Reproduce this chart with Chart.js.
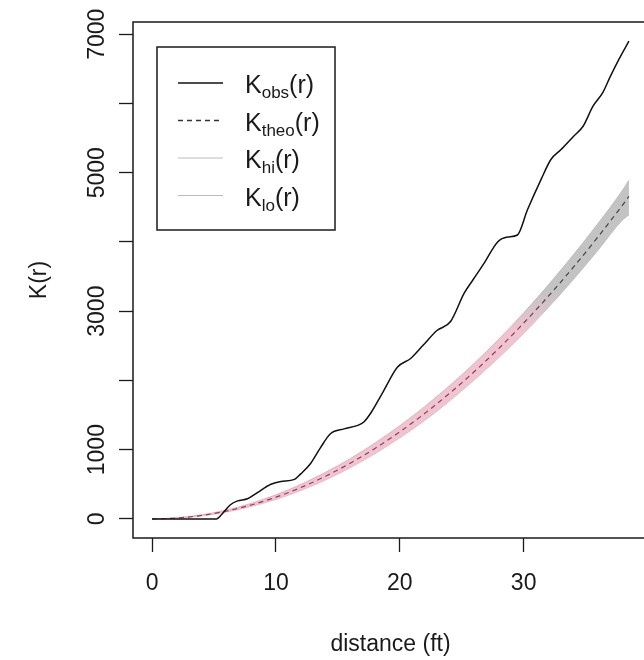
<!DOCTYPE html>
<html>
<head>
<meta charset="utf-8">
<script src="https://cdn.jsdelivr.net/npm/chart.js@4.4.1/dist/chart.umd.min.js"></script>
<style>
	html, body { margin: 0; padding: 0; background: #fff; overflow: hidden; }
	canvas { display: block; }
</style>
</head>
<body>
<canvas id="chart-k-function" width="648" height="660"></canvas>
<script>
const R_OBS = [0, 2, 4, 5.2, 5.6, 6.3, 6.9, 7.7, 8.5, 9.6, 10.4, 11.5, 12, 12.8, 13.6, 14.4, 15.5, 16.6, 17.1, 17.7, 18.7, 19.8, 20.9, 21.9, 23, 24.1, 25.2, 25.9, 26.8, 27.9, 28.7, 29.5, 30.3, 31.4, 32.2, 33, 34, 34.8, 35.6, 36.4, 37, 37.7, 38.5];
const K_OBS = [0, 0, 0, 0, 60, 200, 260, 290, 380, 500, 540, 570, 650, 800, 1030, 1230, 1300, 1350, 1400, 1540, 1850, 2190, 2320, 2510, 2720, 2850, 3260, 3450, 3690, 4000, 4070, 4100, 4460, 4900, 5190, 5330, 5520, 5670, 5960, 6160, 6390, 6640, 6900];

// theoretical curve and envelope
const R_ENV = [0, 2, 4, 6, 8, 10, 12, 14, 16, 18, 20, 22, 24, 26, 28, 30, 32, 34, 36, 38, 38.5];
const K_THEO = [0, 13, 50, 113, 201, 314, 452, 616, 804, 1018, 1257, 1521, 1810, 2124, 2463, 2827, 3217, 3632, 4072, 4536, 4657];
const K_HI = [0, 16, 58, 128, 224, 348, 497, 672, 870, 1095, 1345, 1620, 1920, 2245, 2595, 2975, 3380, 3810, 4265, 4750, 4890];
const K_LO = [0, 10, 43, 99, 180, 282, 410, 562, 740, 942, 1170, 1420, 1700, 2005, 2330, 2680, 3055, 3455, 3880, 4320, 4390];

const X_TICKS = [0, 10, 20, 30];
const Y_TICKS = [0, 1000, 2000, 3000, 4000, 5000, 6000, 7000];
const Y_LABELED = [0, 1000, 3000, 5000, 7000];

const FONT = "'Liberation Sans', Arial, sans-serif";
const INK = "#1a1a1a";

Chart.defaults.font.family = FONT;
Chart.defaults.font.size = 23;
Chart.defaults.color = INK;

const toPoints = (xs, ys) => xs.map((x, i) => ({ x: x, y: ys[i] }));

// pink in the lower part of the band, grey above
const bandShade = (pink, grey) => (context) => {
	const chart = context.chart;
	if (!chart.chartArea) return grey;
	const y = chart.scales.y;
	const g = chart.ctx.createLinearGradient(0, y.getPixelForValue(2700), 0, y.getPixelForValue(3300));
	g.addColorStop(0, pink);
	g.addColorStop(1, grey);
	return g;
};

const LEGEND_ROWS = [
	{ sub: "obs", color: "#111", width: 1.5, dash: [] },
	{ sub: "theo", color: "#333", width: 1.3, dash: [5, 4] },
	{ sub: "hi", color: "#bdbdbd", width: 1.2, dash: [] },
	{ sub: "lo", color: "#bdbdbd", width: 1.2, dash: [] },
];

const frameAndLegend = {
	id: "frameAndLegend",
	afterDatasetsDraw(chart) {
		const { ctx, chartArea } = chart;
		ctx.save();
		ctx.strokeStyle = INK;
		ctx.lineWidth = 1.5;
		ctx.strokeRect(chartArea.left, chartArea.top, chartArea.right - chartArea.left, chartArea.bottom - chartArea.top);

		const bx = chartArea.left + 24;
		const by = chartArea.top + 25;
		ctx.fillStyle = "#fff";
		ctx.fillRect(bx, by, 178, 183);
		ctx.strokeRect(bx, by, 178, 183);

		LEGEND_ROWS.forEach((row, i) => {
			const cy = by + 36 + i * 37.5;
			ctx.beginPath();
			ctx.setLineDash(row.dash);
			ctx.strokeStyle = row.color;
			ctx.lineWidth = row.width;
			ctx.moveTo(bx + 21, cy);
			ctx.lineTo(bx + 66, cy);
			ctx.stroke();
			ctx.setLineDash([]);

			let tx = bx + 88;
			const base = cy + 10;
			ctx.fillStyle = INK;
			ctx.textAlign = "left";
			ctx.textBaseline = "alphabetic";
			ctx.font = "25px " + FONT;
			ctx.fillText("K", tx, base);
			tx += ctx.measureText("K").width;
			ctx.font = "17px " + FONT;
			ctx.fillText(row.sub, tx, base + 5);
			tx += ctx.measureText(row.sub).width;
			ctx.font = "25px " + FONT;
			ctx.fillText("(r)", tx, base);
		});
		ctx.restore();
	},
};

const CHART_DATA = {
	datasets: [
		{
			label: "K_obs(r)",
			data: toPoints(R_OBS, K_OBS),
			borderColor: "#111",
			borderWidth: 1.5,
			pointRadius: 0,
			cubicInterpolationMode: "monotone",
			fill: false,
		},
		{
			label: "K_theo(r)",
			data: toPoints(R_ENV, K_THEO),
			borderColor: bandShade("#9a3a58", "#444"),
			borderWidth: 1.2,
			borderDash: [5, 4],
			pointRadius: 0,
			cubicInterpolationMode: "monotone",
			fill: false,
		},
		{
			label: "K_hi(r)",
			data: toPoints(R_ENV, K_HI),
			borderColor: bandShade("rgba(225,160,180,0.8)", "#bdbdbd"),
			borderWidth: 1,
			backgroundColor: bandShade("rgba(236,190,204,0.9)", "rgba(192,192,192,0.95)"),
			pointRadius: 0,
			cubicInterpolationMode: "monotone",
			fill: "+1",
		},
		{
			label: "K_lo(r)",
			data: toPoints(R_ENV, K_LO),
			borderColor: bandShade("rgba(225,160,180,0.8)", "#bdbdbd"),
			borderWidth: 1,
			pointRadius: 0,
			cubicInterpolationMode: "monotone",
			fill: false,
		},
	],
};

const CHART_CONFIG = {
	type: "line",
	data: CHART_DATA,
	plugins: [frameAndLegend],
	options: {
		responsive: false,
		animation: false,
		layout: { padding: { top: 22, right: 0, bottom: 0, left: 0 } },
		plugins: {
			legend: { display: false },
			tooltip: { enabled: false },
		},
		scales: {
			x: {
				type: "linear",
				min: -1.54,
				max: 40.04,
				afterBuildTicks: (scale) => {
					scale.ticks = X_TICKS.map((v) => ({ value: v }));
				},
				afterFit: (scale) => {
					scale.height = 122;
					scale.paddingLeft = 0;
					scale.paddingRight = 0;
				},
				border: { display: false },
				grid: { display: true, drawOnChartArea: false, drawTicks: true, tickLength: 14, tickWidth: 1.3, tickColor: INK },
				ticks: { padding: 18, maxRotation: 0, autoSkip: false, color: INK },
				title: { display: true, text: "distance (ft)", color: INK, padding: { top: 0, bottom: 2 } },
			},
			y: {
				type: "linear",
				min: -276,
				max: 7176,
				afterBuildTicks: (scale) => {
					scale.ticks = Y_TICKS.map((v) => ({ value: v }));
				},
				afterFit: (scale) => {
					scale.width = 133;
					scale.paddingTop = 0;
					scale.paddingBottom = 0;
				},
				border: { display: false },
				grid: { display: true, drawOnChartArea: false, drawTicks: true, tickLength: 14, tickWidth: 1.3, tickColor: INK },
				ticks: {
					padding: -4,
					minRotation: 90,
					maxRotation: 90,
					crossAlign: "center",
					autoSkip: false,
					color: INK,
					callback: (value) => (Y_LABELED.includes(value) ? String(value) : ""),
				},
				title: { display: true, text: "K(r)", color: INK, padding: { top: 26, bottom: 0 } },
			},
		},
	},
};

const CHART_WRAPPER = document.getElementById("chart-k-function");
if (CHART_WRAPPER) {
	new Chart(CHART_WRAPPER, CHART_CONFIG);
}
</script>
</body>
</html>
